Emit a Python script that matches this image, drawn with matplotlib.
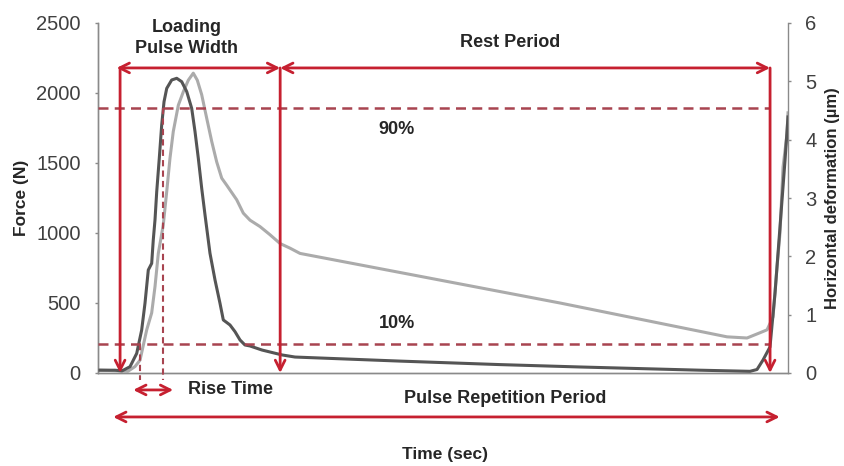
import matplotlib
matplotlib.use("Agg")
import matplotlib.pyplot as plt

plt.rcParams['font.family'] = ['Liberation Sans', 'DejaVu Sans']

# ---- data (time normalised 0..1 across the plotted cycle) ----
force_t = [0.0029, 0.0246, 0.0348, 0.0464, 0.0561, 0.0633, 0.0681, 0.0729, 0.0778, 0.0801,
           0.0826, 0.0851, 0.0888, 0.0923, 0.0957, 0.0996, 0.1068, 0.1141, 0.1213, 0.1286,
           0.1358, 0.1406, 0.1454, 0.1503, 0.1551, 0.1623, 0.1696, 0.1768, 0.1816, 0.1913,
           0.1986, 0.2058, 0.2130, 0.2203, 0.2377, 0.2667, 0.2855, 0.4377, 0.5826, 0.6986,
           0.8725, 0.9449, 0.9551, 0.9638, 0.9739, 0.9812, 0.9884, 0.9957, 1.0]
force_N = [20, 20, 15, 45, 140, 307, 498, 736, 783, 950,
           1093, 1295, 1533, 1771, 1938, 2033, 2093, 2105, 2081, 2010,
           1890, 1724, 1533, 1319, 1129, 855, 664, 498, 379, 343,
           295, 236, 200, 193, 164, 129, 114, 85, 60, 43,
           20, 12, 25, 93, 186, 571, 1043, 1521, 1829]

deform_t = [0.0029, 0.0435, 0.0536, 0.0609, 0.0706, 0.0778, 0.0826, 0.0874, 0.0946, 0.0996,
            0.1043, 0.1091, 0.1164, 0.1236, 0.1309, 0.1381, 0.1439, 0.1503, 0.1575, 0.1648,
            0.1720, 0.1793, 0.1865, 0.2010, 0.2106, 0.2203, 0.2348, 0.2493, 0.2638, 0.2783,
            0.2928, 0.6696, 0.9116, 0.9406, 0.9594, 0.9696, 0.9783, 0.9841, 0.9884, 0.9928,
            0.9986, 1.0]
deform_um = [0.05, 0.03, 0.11, 0.22, 0.74, 1.03, 1.48, 2.05, 2.54, 3.11,
             3.68, 4.14, 4.59, 4.82, 5.02, 5.14, 5.02, 4.77, 4.37, 3.97,
             3.62, 3.34, 3.22, 2.97, 2.74, 2.62, 2.51, 2.37, 2.22, 2.14,
             2.05, 1.2, 0.62, 0.60, 0.69, 0.74, 0.96, 1.82, 2.4, 3.53,
             4.1, 4.46]

force_ticks = [0, 500, 1000, 1500, 2000, 2500]
deform_ticks = [0, 1, 2, 3, 4, 5, 6]

peak_force = 2100
pulse_start, pulse_end, cycle_end = 0.032, 0.264, 0.974
rise_start, rise_end = 0.061, 0.094

RED = '#c62030'
DASH = '#a84450'
SPINE = '#8a8a8a'
TXT = '#262626'

fig = plt.figure(figsize=(8.45, 4.66), dpi=100)
ax = fig.add_axes([98/845, 1-373/466, 690/845, 350/466])
ax2 = ax.twinx()

ax2.plot(deform_t, deform_um, color='#ababab', lw=2.2, solid_joinstyle='round', zorder=2)
ax.plot(force_t, force_N, color='#555555', lw=2.2, solid_joinstyle='round', zorder=3)
ax.set_zorder(ax2.get_zorder() + 1)
ax.patch.set_visible(False)

ax.set_xlim(0, 1)
ax.set_ylim(0, 2500)
ax2.set_ylim(0, 6)
ax.set_xticks([])
ax.set_yticks(force_ticks)
ax2.set_yticks(deform_ticks)

for a in (ax, ax2):
    for s in a.spines.values():
        s.set_color(SPINE)
        s.set_linewidth(1.0)
    a.spines['top'].set_visible(False)
    a.tick_params(axis='y', colors=SPINE, labelcolor='#404040', labelsize=14.5,
                  length=2.5, width=1.0, pad=10)
ax.spines['right'].set_visible(False)

ax.set_ylabel('Force (N)', fontsize=12.5, fontweight='bold', color=TXT, labelpad=5)
ax2.set_ylabel('Horizontal deformation (µm)', fontsize=12, fontweight='bold',
               color=TXT, labelpad=6)

# threshold dashed lines
for frac in (0.9, 0.1):
    ax.plot([0, cycle_end], [frac * peak_force] * 2, color=DASH, lw=1.8,
            ls=(0, (4, 2.5)), zorder=4)

# rise time dotted verticals
ax.plot([rise_start] * 2, [0.1 * peak_force, -50], color=DASH, lw=1.5,
        ls=(0, (3, 2)), clip_on=False, zorder=4)
ax.plot([rise_end] * 2, [0.9 * peak_force, -50], color=DASH, lw=1.5,
        ls=(0, (3, 2)), clip_on=False, zorder=4)

top_y = 2179
arrow_kw = dict(color=RED, lw=2.0, shrinkA=0, shrinkB=0)
head = 'head_length=0.7,head_width=0.35'
for xv in (pulse_start, pulse_end, cycle_end):
    ax.annotate('', xy=(xv, 0), xytext=(xv, top_y),
                arrowprops=dict(arrowstyle='->,' + head, **arrow_kw),
                annotation_clip=False, zorder=5)
for (x0, x1, yy) in [(pulse_start - 0.005, pulse_end, top_y),
                     (pulse_end, cycle_end, top_y),
                     (0.051, 0.109, -121),
                     (0.022, 0.988, -314)]:
    ax.annotate('', xy=(x0, yy), xytext=(x1, yy),
                arrowprops=dict(arrowstyle='<->,' + head, **arrow_kw),
                annotation_clip=False, zorder=5)

tk = dict(fontsize=13, fontweight='bold', color=TXT, ha='center', va='center')
ax.text(0.128, 2390, 'Loading\nPulse Width', linespacing=1.3, **tk)
ax.text(0.597, 2364, 'Rest Period', **tk)
ax.text(0.432, 1736, '90%', **tk)
ax.text(0.433, 350, '10%', **tk)
ax.text(0.130, -121, 'Rise Time', fontsize=13, fontweight='bold', color=TXT,
        ha='left', va='center')
ax.text(0.590, -179, 'Pulse Repetition Period', **tk)
fig.text(445/845, 1-455/466, 'Time (sec)', fontsize=12.5, fontweight='bold',
         color=TXT, ha='center', va='center')

fig.savefig('out.png', dpi=100)
